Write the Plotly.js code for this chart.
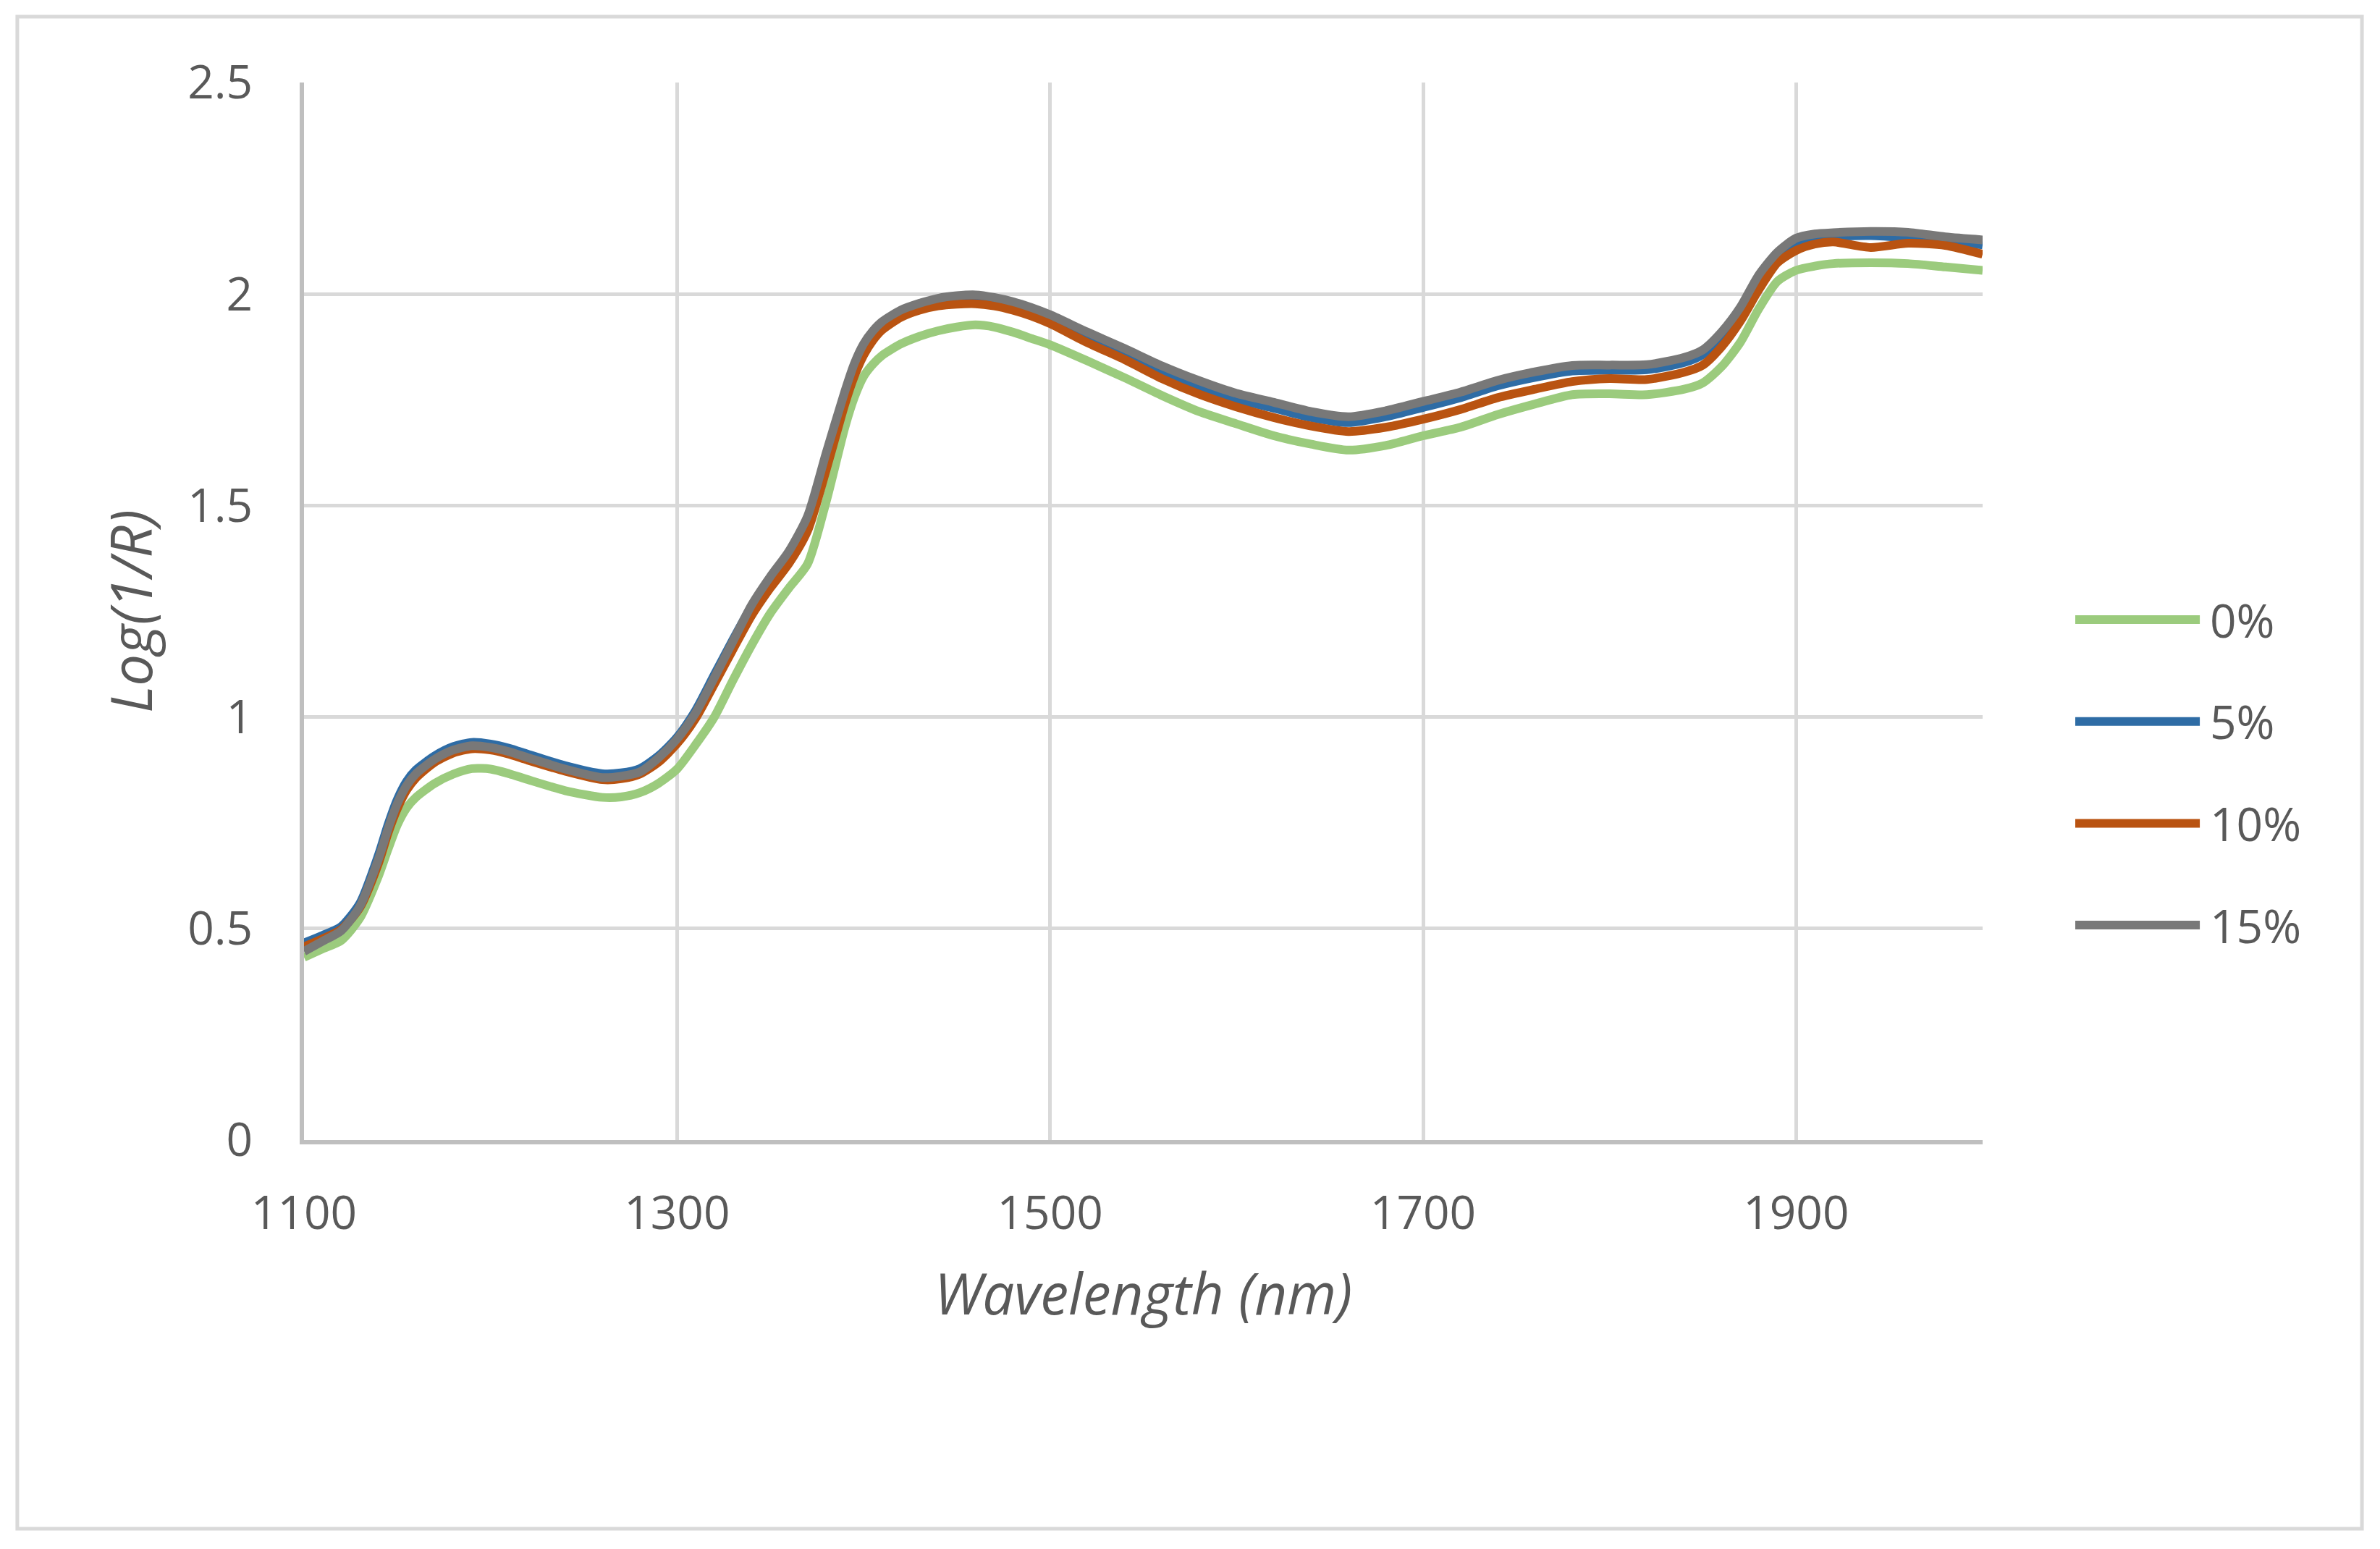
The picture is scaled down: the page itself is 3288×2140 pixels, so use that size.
<!DOCTYPE html>
<html>
<head>
<meta charset="utf-8">
<script src="https://cdn.plot.ly/plotly-3.0.1.min.js"></script>
<style>
  html, body { margin: 0; padding: 0; background: #ffffff; }
  #plot { width: 3288px; height: 2140px; }
</style>
</head>
<body>
<div id="plot"></div>
<script>
// wavelengths (nm), shared by all four spectra
const wavelength = [1100, 1110, 1120, 1130, 1140, 1145, 1150, 1155, 1160, 1170,
    1180, 1190, 1200, 1210, 1220, 1240, 1260, 1270, 1280, 1290,
    1300, 1310, 1320, 1330, 1340, 1350, 1360, 1370, 1380, 1390,
    1395, 1400, 1405, 1410, 1420, 1430, 1440, 1450, 1460, 1470,
    1480, 1490, 1500, 1520, 1540, 1560, 1580, 1600, 1620, 1640,
    1660, 1680, 1700, 1720, 1740, 1760, 1780, 1800, 1820, 1840,
    1850, 1860, 1870, 1880, 1890, 1900, 1910, 1920, 1940, 1960,
    1980, 2000];

const pct0 = [0.432, 0.452, 0.472, 0.525, 0.625, 0.687, 0.745, 0.785, 0.810, 0.843,
    0.865, 0.878, 0.877, 0.866, 0.852, 0.826, 0.810, 0.811, 0.821, 0.843,
    0.877, 0.935, 1.000, 1.087, 1.170, 1.245, 1.305, 1.362, 1.510, 1.685,
    1.755, 1.805, 1.834, 1.855, 1.882, 1.900, 1.913, 1.922, 1.927, 1.922,
    1.910, 1.895, 1.880, 1.842, 1.802, 1.760, 1.722, 1.693, 1.665, 1.645,
    1.631, 1.642, 1.665, 1.685, 1.715, 1.740, 1.762, 1.764, 1.762, 1.775,
    1.790, 1.828, 1.885, 1.965, 2.030, 2.056, 2.066, 2.072, 2.074, 2.072,
    2.064, 2.056];

const pct5 = [0.466, 0.484, 0.505, 0.560, 0.675, 0.745, 0.805, 0.848, 0.875, 0.908,
    0.930, 0.940, 0.936, 0.926, 0.912, 0.885, 0.866, 0.868, 0.878, 0.908,
    0.952, 1.016, 1.100, 1.183, 1.262, 1.326, 1.385, 1.465, 1.612, 1.760,
    1.827, 1.876, 1.908, 1.930, 1.957, 1.974, 1.986, 1.992, 1.994, 1.988,
    1.977, 1.962, 1.945, 1.900, 1.860, 1.818, 1.782, 1.752, 1.730, 1.708,
    1.696, 1.710, 1.732, 1.755, 1.783, 1.803, 1.818, 1.820, 1.821, 1.838,
    1.857, 1.900, 1.958, 2.035, 2.092, 2.124, 2.133, 2.136, 2.138, 2.133,
    2.126, 2.116];

const pct10 = [0.457, 0.476, 0.498, 0.550, 0.655, 0.725, 0.783, 0.827, 0.856, 0.893,
    0.915, 0.925, 0.922, 0.912, 0.898, 0.872, 0.852, 0.854, 0.865, 0.893,
    0.937, 0.997, 1.078, 1.160, 1.240, 1.305, 1.363, 1.440, 1.585, 1.740,
    1.805, 1.855, 1.890, 1.915, 1.945, 1.962, 1.972, 1.976, 1.977, 1.972,
    1.962, 1.948, 1.930, 1.885, 1.845, 1.800, 1.763, 1.733, 1.708, 1.688,
    1.675, 1.685, 1.704, 1.727, 1.755, 1.775, 1.793, 1.800, 1.798, 1.815,
    1.832, 1.875, 1.935, 2.010, 2.074, 2.103, 2.118, 2.123, 2.110, 2.120,
    2.115, 2.094];

const pct15 = [0.446, 0.470, 0.495, 0.553, 0.665, 0.735, 0.795, 0.838, 0.866, 0.900,
    0.922, 0.932, 0.928, 0.918, 0.904, 0.877, 0.857, 0.860, 0.870, 0.903,
    0.948, 1.010, 1.093, 1.179, 1.265, 1.332, 1.392, 1.475, 1.625, 1.770,
    1.835, 1.882, 1.913, 1.935, 1.962, 1.978, 1.990, 1.996, 1.998, 1.992,
    1.982, 1.968, 1.951, 1.910, 1.871, 1.830, 1.795, 1.765, 1.744, 1.722,
    1.710, 1.724, 1.746, 1.768, 1.796, 1.816, 1.831, 1.832, 1.833, 1.850,
    1.868, 1.910, 1.968, 2.045, 2.099, 2.132, 2.142, 2.145, 2.148, 2.146,
    2.135, 2.128];

const seriesNames = ["0%", "5%", "10%", "15%"];
const seriesValues = [pct0, pct5, pct10, pct15];
const seriesColors = ["#9bcb7d", "#2e6ca5", "#b95311", "#787878"];

const textColor = "#595959";
const fontFamily = "'Open Sans', 'Noto Sans', sans-serif";

const traces = seriesNames.map((name, i) => ({
    type: "scatter",
    mode: "lines",
    name: name,
    x: wavelength,
    y: seriesValues[i],
    line: {color: seriesColors[i], width: 12, shape: "spline", smoothing: 0.7},
    hoverinfo: "x+y+name"
}));

// legend drawn by hand so the sample lines get Excel's long strokes
const legendTop = 0.4921;
const legendStep = 0.0963;
const legendShapes = seriesNames.map((name, i) => ({
    type: "line",
    xref: "paper", yref: "paper",
    x0: 1.0552, x1: 1.1294,
    y0: legendTop - i * legendStep, y1: legendTop - i * legendStep,
    line: {color: seriesColors[i], width: 12}
}));
const legendLabels = seriesNames.map((name, i) => ({
    text: name,
    xref: "paper", yref: "paper",
    x: 1.1345, y: legendTop - i * legendStep,
    xanchor: "left", yanchor: "middle",
    showarrow: false,
    font: {family: fontFamily, size: 64, color: textColor}
}));

// outer chart border
const border = {
    type: "rect",
    xref: "paper", yref: "paper",
    x0: -0.1708, x1: 1.2260,
    y0: -0.3676, y1: 1.0623,
    line: {color: "#d9d9d9", width: 5},
    layer: "below"
};

Plotly.newPlot("plot", traces, {
    width: 3288,
    height: 2140,
    margin: {l: 420, r: 549, t: 114, b: 565},
    paper_bgcolor: "#ffffff",
    plot_bgcolor: "#ffffff",
    showlegend: false,
    font: {family: fontFamily, size: 64, color: textColor},
    xaxis: {
        range: [1100, 2000],
        tick0: 1100,
        dtick: 200,
        showgrid: true,
        gridcolor: "#d9d9d9",
        gridwidth: 5,
        showline: true,
        linecolor: "#bfbfbf",
        linewidth: 6,
        zeroline: false,
        ticks: "",
        ticklabelstandoff: 40,
        tickfont: {family: fontFamily, size: 64, color: textColor},
        title: {
            text: "<i>Wavelength (nm)</i>",
            standoff: 48,
            font: {family: fontFamily, size: 78, color: textColor}
        }
    },
    yaxis: {
        range: [0, 2.5],
        dtick: 0.5,
        showgrid: true,
        gridcolor: "#d9d9d9",
        gridwidth: 5,
        showline: true,
        linecolor: "#bfbfbf",
        linewidth: 6,
        zeroline: false,
        ticks: "",
        ticklabelstandoff: 52,
        tickfont: {family: fontFamily, size: 64, color: textColor},
        title: {
            text: "<i>Log(1/R)</i>",
            standoff: 25,
            font: {family: fontFamily, size: 78, color: textColor}
        }
    },
    shapes: [border, ...legendShapes],
    annotations: legendLabels
}, {
    staticPlot: true
});
</script>
</body>
</html>
